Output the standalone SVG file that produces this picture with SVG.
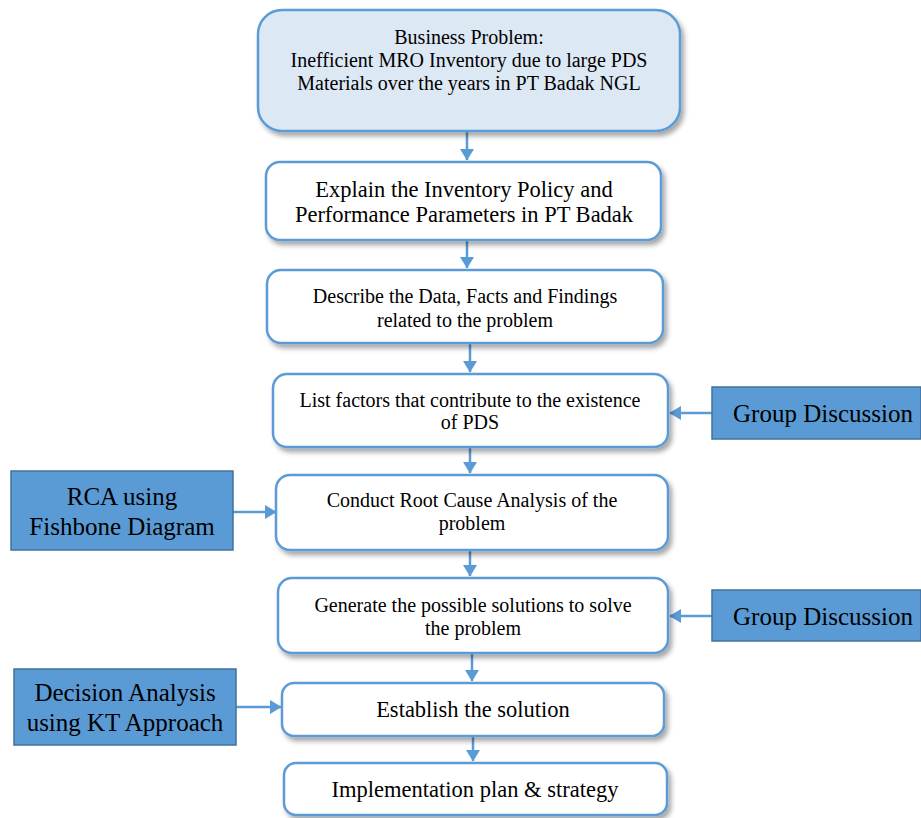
<svg xmlns="http://www.w3.org/2000/svg" width="921" height="818" viewBox="0 0 921 818">
<defs>
<filter id="sh" x="-10%" y="-20%" width="125%" height="150%">
<feDropShadow dx="3" dy="4" stdDeviation="2.5" flood-color="#000" flood-opacity="0.35"/>
</filter>
<marker id="ah" viewBox="0 0 10 12" refX="9.5" refY="6" markerWidth="4.8" markerHeight="5.8" preserveAspectRatio="none" orient="auto" markerUnits="strokeWidth">
<path d="M0,0 L10,6 L0,12 z" fill="#5b9bd5"/>
</marker>
</defs>
<style>
.step{fill:#ffffff;stroke:#5b9bd5;stroke-width:2.5;filter:url(#sh)}
.top{fill:#dde8f5;stroke:#5b9bd5;stroke-width:2.5;filter:url(#sh)}
.side{fill:#5b9bd5;stroke:#41719c;stroke-width:1.5}
text{font-family:"Liberation Serif","Times New Roman",serif;fill:#000;text-anchor:middle}
.t1{font-size:20px}
.t2{font-size:22.5px}
.t3{font-size:20px}
.t4{font-size:25px}
.conn line{stroke:#5b9bd5;stroke-width:2.5;marker-end:url(#ah)}
</style>
<rect width="921" height="818" fill="#ffffff"/>
<g id="connectors" class="conn">
<line x1="467" y1="132" x2="467" y2="160"/>
<line x1="467" y1="241" x2="467" y2="268"/>
<line x1="470" y1="344" x2="470" y2="372"/>
<line x1="470" y1="448" x2="470" y2="473"/>
<line x1="470" y1="551" x2="470" y2="576"/>
<line x1="472" y1="654" x2="472" y2="681"/>
<line x1="473" y1="737" x2="473" y2="761"/>
<line x1="712" y1="413" x2="670" y2="413"/>
<line x1="712" y1="616" x2="670" y2="616"/>
<line x1="233" y1="512" x2="276" y2="512"/>
<line x1="236" y1="707" x2="281" y2="707"/>
</g>
<g id="n1"><rect class="top" x="258" y="10" width="422" height="121" rx="24"/>
<text class="t1" x="469" y="44">Business Problem:</text>
<text class="t1" x="469" y="67">Inefficient MRO Inventory due to large PDS</text>
<text class="t1" x="469" y="90">Materials over the years in PT Badak NGL</text></g>
<g id="n2"><rect class="step" x="266" y="162" width="395" height="78" rx="14"/>
<text class="t2" x="464" y="197">Explain the Inventory Policy and</text>
<text class="t2" x="464" y="222">Performance Parameters in PT Badak</text></g>
<g id="n3"><rect class="step" x="267" y="270" width="396" height="73" rx="14"/>
<text class="t3" x="465" y="303">Describe the Data, Facts and Findings</text>
<text class="t3" x="465" y="327">related to the problem</text></g>
<g id="n4"><rect class="step" x="273" y="374" width="395" height="73" rx="14"/>
<text class="t3" x="470" y="407">List factors that contribute to the existence</text>
<text class="t3" x="470" y="429">of PDS</text></g>
<g id="n5"><rect class="step" x="276" y="475" width="392" height="75" rx="14"/>
<text class="t3" x="472" y="507">Conduct Root Cause Analysis of the</text>
<text class="t3" x="472" y="530">problem</text></g>
<g id="n6"><rect class="step" x="278" y="578" width="390" height="75" rx="14"/>
<text class="t3" x="473" y="612">Generate the possible solutions to solve</text>
<text class="t3" x="473" y="635">the problem</text></g>
<g id="n7"><rect class="step" x="282" y="683" width="382" height="53" rx="12"/>
<text class="t2" x="473" y="717">Establish the solution</text></g>
<g id="n8"><rect class="step" x="284" y="763" width="383" height="52" rx="12"/>
<text class="t2" x="475" y="797">Implementation plan &amp; strategy</text></g>
<g id="s1"><rect class="side" x="712" y="387" width="209" height="52"/>
<text class="t4" x="823" y="422">Group Discussion</text></g>
<g id="s2"><rect class="side" x="712" y="590" width="209" height="51"/>
<text class="t4" x="823" y="625">Group Discussion</text></g>
<g id="s3"><rect class="side" x="11" y="471" width="222" height="79"/>
<text class="t4" x="122" y="505">RCA using</text>
<text class="t4" x="122" y="535">Fishbone Diagram</text></g>
<g id="s4"><rect class="side" x="14" y="669" width="222" height="76"/>
<text class="t4" x="125" y="701">Decision Analysis</text>
<text class="t4" x="125" y="731">using KT Approach</text></g>
</svg>
